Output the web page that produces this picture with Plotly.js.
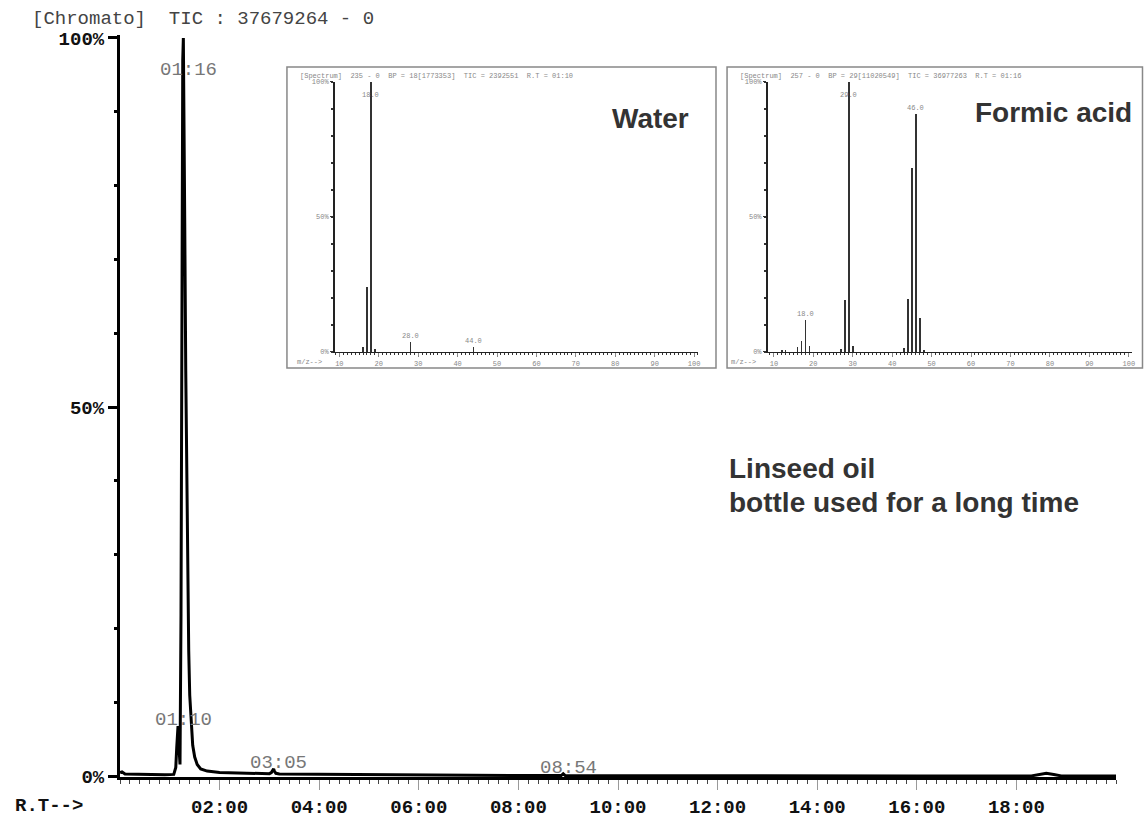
<!DOCTYPE html>
<html>
<head>
<meta charset="utf-8">
<script src="https://cdn.plot.ly/plotly-3.0.1.min.js"></script>
<style>html,body{margin:0;padding:0;background:#fff;}#chart{width:1147px;height:819px;}</style>
</head>
<body>
<div id="chart"></div>
<script>
// ---- Chromatogram (TIC, % of max) ----
const rtMinutes = [0, 0.04, 0.1, 0.3, 0.6, 0.9, 1.08, 1.12, 1.14, 1.155, 1.165, 1.175, 1.19, 1.205, 1.225, 1.245,
  1.26, 1.272, 1.285, 1.30, 1.32, 1.34, 1.36, 1.38, 1.40, 1.43, 1.46, 1.50, 1.55, 1.62, 1.75, 2.0, 2.5, 3.0, 3.04, 3.07,
  3.085, 3.10, 3.13, 3.2, 4.0, 5.0, 6.0, 7.0, 8.0, 8.86, 8.9, 8.94, 10, 12, 14, 16, 18.3, 18.45, 18.6, 18.75, 18.9, 19.5, 20];
const ticPercent = [0.5, 0.6, 0.3, 0.25, 0.2, 0.2, 0.25, 1.2, 4.0, 6.3, 6.8, 5.0, 2.0, 1.6, 22, 72,
  97, 100, 92, 75, 55, 40, 27, 17, 11, 6.5, 4.2, 2.6, 1.6, 1.0, 0.7, 0.5, 0.4, 0.35, 0.5, 0.9,
  1.0, 0.7, 0.4, 0.3, 0.25, 0.2, 0.15, 0.12, 0.1, 0.1, 0.35, 0.1, 0.08, 0.06, 0.05, 0.05, 0.05, 0.25, 0.4, 0.25, 0.05, 0.05, 0.05];

const rtTickValues = [2, 4, 6, 8, 10, 12, 14, 16, 18];
const rtTickLabels = ["02:00", "04:00", "06:00", "08:00", "10:00", "12:00", "14:00", "16:00", "18:00"];
const pctTickValues = [0, 50, 100];
const pctTickLabels = ["0%", "50%", "100%"];

const peakLabelTimes = [1.167, 1.267, 3.083, 8.9];
const peakLabelTexts = ["01:10", "01:16", "03:05", "08:54"];

// ---- Spectrum 1: Water (R.T 01:10) ----
const waterMz = [16, 17, 18, 19, 28, 44];
const waterInt = [2, 24, 100, 1, 3.7, 2];
const waterLabeled = [18, 28, 44];

// ---- Spectrum 2: Formic acid (R.T 01:16) ----
const formicMz = [12, 13, 16, 17, 18, 19, 27, 28, 29, 30, 43, 44, 45, 46, 47, 48];
const formicInt = [0.7, 0.7, 2, 4, 12, 2.3, 1.2, 19.3, 100, 2.3, 1.5, 19.6, 68, 88, 12.7, 0.6];
const formicLabeled = [18, 29, 46];

const mzTickValues = [10, 20, 30, 40, 50, 60, 70, 80, 90, 100];

const headerWater = "[Spectrum]  235 - 0  BP = 18[1773353]  TIC = 2392551  R.T = 01:10";
const headerFormic = "[Spectrum]  257 - 0  BP = 29[11020549]  TIC = 36977263  R.T = 01:16";
const titleText = "[Chromato]  TIC : 37679264 - 0";

// ---- styles ----
const MONO = "Liberation Mono, DejaVu Sans Mono, monospace";
const SANS = "Liberation Sans, Arial, sans-serif";
const boldMono = {family: MONO, size: 19, color: "#111", weight: "bold"};
const smallMono = {family: MONO, size: 7, color: "#888"};

const traces = [
  {x: rtMinutes, y: ticPercent, type: "scatter", mode: "lines",
   line: {color: "#000", width: 3}, xaxis: "x", yaxis: "y", hoverinfo: "skip"},
  {x: waterMz, y: waterInt, type: "bar", width: 0.4, marker: {color: "#333"},
   xaxis: "x2", yaxis: "y2", hoverinfo: "skip"},
  {x: formicMz, y: formicInt, type: "bar", width: 0.4, marker: {color: "#333"},
   xaxis: "x3", yaxis: "y3", hoverinfo: "skip"}
];

function insetX(domain, range) {
  return {domain: domain, range: range, showline: true, linecolor: "#222", linewidth: 1.5,
    ticks: "outside", ticklen: 4, tickwidth: 1, tickcolor: "#888",
    tickmode: "array", tickvals: mzTickValues, ticktext: mzTickValues.map(String), tickfont: smallMono,
    minor: {dtick: 1, tick0: 0, ticks: "outside", ticklen: 2, tickwidth: 1, tickcolor: "#333", showgrid: false},
    showgrid: false, zeroline: false, fixedrange: true};
}
function insetY(domain, anchor) {
  return {domain: domain, anchor: anchor, range: [0, 100], showline: true, linecolor: "#222", linewidth: 2,
    ticks: "outside", ticklen: 3, tickwidth: 1, tickcolor: "#333",
    tickmode: "array", tickvals: pctTickValues, ticktext: pctTickLabels, tickfont: smallMono,
    minor: {dtick: 10, tick0: 0, ticks: "outside", ticklen: 2, tickwidth: 1.5, tickcolor: "#333", showgrid: false},
    showgrid: false, zeroline: false, fixedrange: true};
}

const annotations = [];

// peak time labels on the chromatogram
peakLabelTimes.forEach((t, i) => {
  let h = 0;
  rtMinutes.forEach((r, j) => { if (Math.abs(r - t) <= 0.03 && ticPercent[j] > h) h = ticPercent[j]; });
  annotations.push({x: t, y: h, xref: "x", yref: "y", text: peakLabelTexts[i], showarrow: false,
    xanchor: "center", yanchor: "middle", xshift: 5, yshift: h > 90 ? -32 : 6,
    font: {family: MONO, size: 19, color: "#777"}});
});

// labelled spectrum peaks
function labelPeaks(mzs, ints, which, xr, yr) {
  which.forEach(m => {
    const v = ints[mzs.indexOf(m)];
    if (v >= 99) {
      annotations.push({x: m, y: v, xref: xr, yref: yr, text: m.toFixed(1), showarrow: false,
        xanchor: "center", yanchor: "top", yshift: -7, font: smallMono});
    } else {
      annotations.push({x: m, y: v, xref: xr, yref: yr, text: m.toFixed(1), showarrow: false,
        xanchor: "center", yanchor: "bottom", yshift: 0, font: smallMono});
    }
  });
}
labelPeaks(waterMz, waterInt, waterLabeled, "x2", "y2");
labelPeaks(formicMz, formicInt, formicLabeled, "x3", "y3");

const bigText = {family: SANS, size: 28, color: "#333"};
annotations.push(
  {xref: "paper", yref: "paper", x: -0.1046, y: -0.0391, xanchor: "left", yanchor: "middle",
   text: "R.T-->", showarrow: false, font: boldMono},
  {xref: "paper", yref: "paper", x: 0.1737, y: 0.9443, xanchor: "left", yanchor: "middle",
   text: headerWater.replace(/ /g, "&nbsp;"), showarrow: false, font: smallMono},
  {xref: "paper", yref: "paper", x: 0.6037, y: 0.9443, xanchor: "left", yanchor: "middle",
   text: headerFormic.replace(/ /g, "&nbsp;"), showarrow: false, font: smallMono},
  {xref: "paper", yref: "paper", x: 0.1711, y: 0.5593, xanchor: "left", yanchor: "middle",
   text: "m/z-->", showarrow: false, font: smallMono},
  {xref: "paper", yref: "paper", x: 0.5953, y: 0.5593, xanchor: "left", yanchor: "middle",
   text: "m/z-->", showarrow: false, font: smallMono},
  {xref: "paper", yref: "paper", x: 0.5181, y: 0.8881, xanchor: "center", yanchor: "middle",
   text: "<b>Water</b>", showarrow: false, font: bigText},
  {xref: "paper", yref: "paper", x: 0.9125, y: 0.8962, xanchor: "center", yanchor: "middle",
   text: "<b>Formic acid</b>", showarrow: false, font: bigText},
  {xref: "paper", yref: "paper", x: 0.5934, y: 0.4164, xanchor: "left", yanchor: "middle",
   text: "<b>Linseed oil</b>", showarrow: false, font: bigText},
  {xref: "paper", yref: "paper", x: 0.5934, y: 0.3706, xanchor: "left", yanchor: "middle",
   text: "<b>bottle used for a long time</b>", showarrow: false, font: bigText}
);

const layout = {
  width: 1147, height: 819,
  margin: {l: 120, r: 4, t: 35, b: 42},
  paper_bgcolor: "#fff", plot_bgcolor: "#fff",
  showlegend: false,
  title: {text: titleText.replace(/ /g, "&nbsp;"), xref: "container", yref: "container",
    x: 0.0279, xanchor: "left", y: 0.979, yanchor: "middle",
    font: {family: MONO, size: 19, color: "#444"}},
  xaxis: {domain: [0, 0.97361], range: [0, 20], anchor: "y", showline: true, linecolor: "#000", linewidth: 3,
    ticks: "outside", ticklen: 10, tickwidth: 1, tickcolor: "#999",
    tickmode: "array", tickvals: rtTickValues, ticktext: rtTickLabels, tickfont: boldMono,
    minor: {dtick: 0.2, tick0: 0, ticks: "outside", ticklen: 4, tickwidth: 1, tickcolor: "#444", showgrid: false},
    showgrid: false, zeroline: false, fixedrange: true},
  yaxis: {domain: [0, 1], range: [-0.1, 100.4], anchor: "x", showline: true, linecolor: "#000", linewidth: 3,
    ticks: "outside", ticklen: 9, tickwidth: 3, tickcolor: "#000",
    tickmode: "array", tickvals: pctTickValues, ticktext: pctTickLabels, tickfont: boldMono,
    minor: {dtick: 10, tick0: 0, ticks: "outside", ticklen: 3, tickwidth: 3, tickcolor: "#000", showgrid: false},
    showgrid: false, zeroline: false, fixedrange: true},
  xaxis2: Object.assign(insetX([0.2102, 0.5650], [8.9, 101]), {anchor: "y2"}),
  yaxis2: insetY([0.5728, 0.9367], "x2"),
  xaxis3: Object.assign(insetX([0.6334, 0.9892], [8.5, 100.8]), {anchor: "y3"}),
  yaxis3: insetY([0.5728, 0.9367], "x3"),
  bargap: 0,
  shapes: [
    {type: "rect", xref: "paper", yref: "paper", x0: 0.1632, x1: 0.5826, y0: 0.5512, y1: 0.9569,
     line: {color: "#888", width: 1.5}, fillcolor: "rgba(0,0,0,0)", layer: "below"},
    {type: "rect", xref: "paper", yref: "paper", x0: 0.5934, x1: 0.9995, y0: 0.5512, y1: 0.9569,
     line: {color: "#888", width: 1.5}, fillcolor: "rgba(0,0,0,0)", layer: "below"}
  ],
  annotations: annotations
};

Plotly.newPlot("chart", traces, layout, {staticPlot: true, displayModeBar: false});
</script>
</body>
</html>
